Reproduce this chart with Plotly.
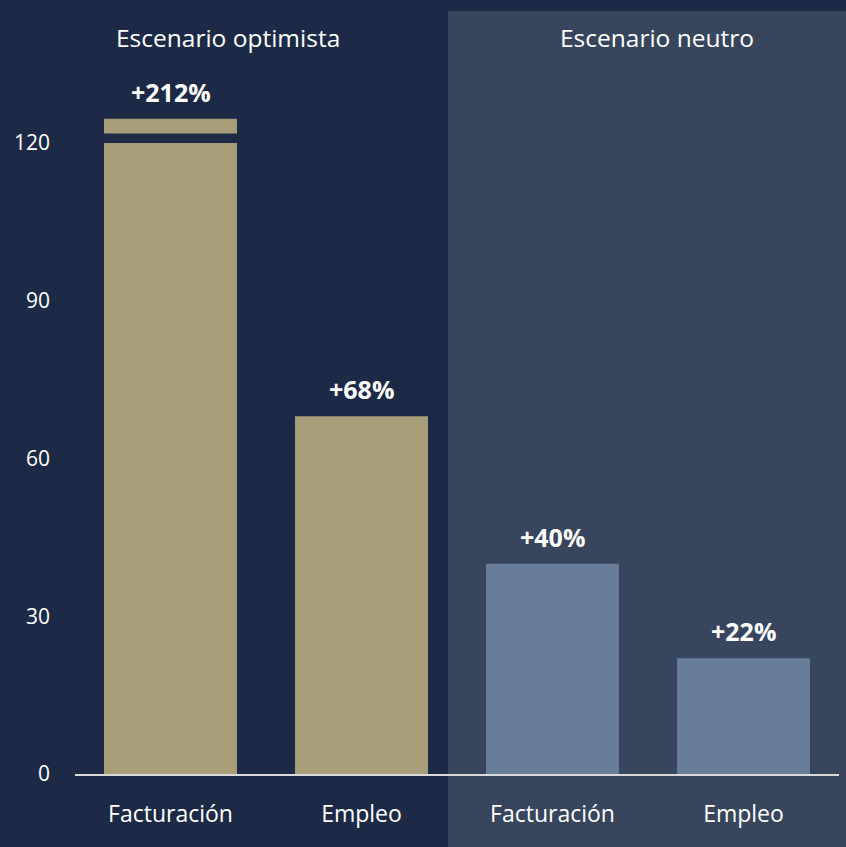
import plotly.graph_objects as go

# ---- data ----
scenarios = ["Escenario optimista", "Escenario neutro"]
categories = ["Facturación", "Empleo", "Facturación", "Empleo"]
values = [212, 68, 40, 22]          # % growth
labels = ["+212%", "+68%", "+40%", "+22%"]
bar_scenario = [0, 0, 1, 1]
y_ticks = [0, 30, 60, 90, 120]
axis_break = 120                     # bars above this value are cut
cap_base = 121.8                     # start of the piece drawn above the break
cap_height = 2.8

# ---- style ----
BG = "#1c2a46"
OVERLAY = "rgba(120,132,150,0.30)"
GOLD = "#a89e7a"
BLUE = "#687e98"
FONT = "Open Sans"

xs = list(range(len(categories)))
colors = [GOLD if s == 0 else BLUE for s in bar_scenario]
main_vals = [min(v, axis_break) for v in values]

fig = go.Figure()
fig.add_trace(go.Bar(
    x=xs, y=main_vals, marker=dict(color=colors, line=dict(width=0)),
    width=0.696, hoverinfo="skip", showlegend=False,
))
cap_x = [x for x, v in zip(xs, values) if v > axis_break]
cap_c = [c for c, v in zip(colors, values) if v > axis_break]
fig.add_trace(go.Bar(
    x=cap_x, y=[cap_height] * len(cap_x), base=[cap_base] * len(cap_x),
    marker=dict(color=cap_c, line=dict(width=0)),
    width=0.696, hoverinfo="skip", showlegend=False,
))

tops = [cap_base + cap_height if v > axis_break else v for v in values]
for x, t, lab in zip(xs, tops, labels):
    fig.add_annotation(x=x, y=t, text="<b>" + lab + "</b>", showarrow=False,
                       yanchor="middle", yshift=27,
                       font=dict(family=FONT, size=25, color="white"))

# scenario overlay (right half)
fig.add_shape(type="rect", xref="paper", yref="paper",
              x0=0.488, x1=1.02, y0=-0.2, y1=1.0746,
              fillcolor=OVERLAY, line=dict(width=0), layer="below")

# scenario titles
fig.add_annotation(xref="paper", yref="paper", x=0.2, y=1.038, text=scenarios[0],
                   showarrow=False, xanchor="center", yanchor="middle",
                   font=dict(family=FONT, size=24.5, color="white"))
fig.add_annotation(xref="paper", yref="paper", x=0.762, y=1.038, text=scenarios[1],
                   showarrow=False, xanchor="center", yanchor="middle",
                   font=dict(family=FONT, size=24.5, color="white"))

fig.update_layout(
    width=846, height=847,
    margin=dict(l=75, r=7, t=64, b=73),
    paper_bgcolor=BG, plot_bgcolor="rgba(0,0,0,0)",
    barmode="overlay",
    font=dict(family=FONT, color="white"),
    xaxis=dict(range=[-0.5, 3.5], tickvals=xs, ticktext=categories,
               showgrid=False, zeroline=False, showline=True,
               linecolor="#d9d9d9", linewidth=2, ticks="",
               ticklabelstandoff=18,
               tickfont=dict(family=FONT, size=23, color="white"), fixedrange=True),
    yaxis=dict(range=[0, 135], tickvals=y_ticks, showgrid=False, zeroline=False,
               showline=False, ticks="", ticklabelstandoff=24,
               tickfont=dict(family=FONT, size=21, color="white"), fixedrange=True),
)

fig.write_html("out.html", config={"displayModeBar": False},
               post_script="document.body.style.margin='0';document.body.style.background='%s';" % BG)
